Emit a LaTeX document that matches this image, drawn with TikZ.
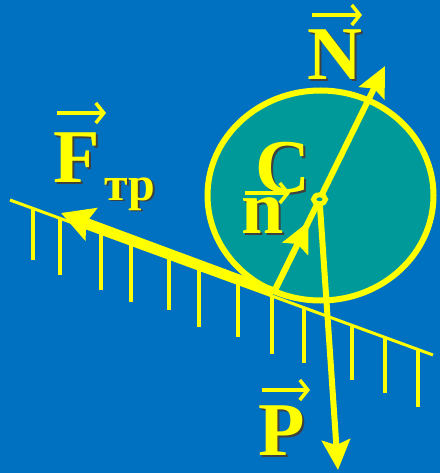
\documentclass[tikz,border=0pt]{standalone}
\usepackage{fontspec}
\setmainfont{Liberation Serif}
\usepackage{tikz}
\usetikzlibrary{arrows.meta, calc}
\definecolor{Sky}{HTML}{0070C0}
\definecolor{Disk}{HTML}{009999}
\definecolor{Gold}{HTML}{FFFF00}
\newcommand{\shtxt}[1]{\rlap{\kern2pt\lower2pt\hbox{\color{black!75}#1}}#1}

\begin{document}
\begin{tikzpicture}[
  x=1pt, y=-1pt,
  font=\bfseries\fontsize{76}{76}\selectfont,
  lbl/.style={text=Gold, inner sep=0pt, anchor=base},
  force/.style={draw=Gold, line width=6pt, -{Stealth[length=30pt, width=28pt, inset=5pt]}},
  push/.style={force, line width=9pt, -{Stealth[length=32pt, width=34pt, inset=5pt]}},
  hatch/.style={draw=Gold, line width=4pt},
  vecbar/.style={draw=Gold, line width=3.5pt, -{Straight Barb[length=8pt, width=20pt]}}
]
\useasboundingbox (0,0) rectangle (440,473);
\fill[Sky] (0,0) rectangle (440,473);

\coordinate (K) at (274,292);
\coordinate (Ntip) at (385,66);
\coordinate (C) at ($(K)!0.41!(Ntip)$);
\coordinate (Ptip) at (338,470);
\coordinate (Ftip) at (61,213);
\coordinate (L1) at (10,200);
\coordinate (L2) at (433,355);

% disk
\draw[Gold, line width=6pt, fill=Disk] (320.5,195.5) ellipse [x radius=113, y radius=105];

% incline
\draw[Gold, line width=3pt] (L1) -- (L2);
\foreach \x/\yb in {33/260, 60/275, 101/290, 131/302, 169/310, 199/327, 238/337, 272/354, 304/363, 352/380, 385/393, 418/407}
  \draw[hatch] (\x,{200+0.3664*(\x-10)}) -- (\x,\yb);

% forces
\draw[push] (K) -- (Ftip);
\draw[force] (K) -- (Ntip);
\draw[force] (K) -- ($(K)!0.76!(C)$);
\draw[force] (C) -- (Ptip);
\draw[Gold, line width=5pt, fill=Disk] (C) ellipse [x radius=6, y radius=4.5];

% labels
\node[lbl] (lN) at (335,80) {\shtxt{N}};
\node[lbl, anchor=base west] (lF) at (53,182) {\shtxt{F\kern5pt\lower18pt\hbox{\fontsize{48}{48}\selectfont тр}}};
\node[lbl] (lC) at (283,192) {\shtxt{C}};
\node[lbl] (ln) at (263,233) {\shtxt{n}};
\node[lbl] (lP) at (282,455) {\shtxt{P}};

\draw[vecbar] ($(lN.base)+(-23,-65)$) -- ($(lN.base)+(27,-65)$);
\draw[vecbar] ($(lF.base west)+(4,-69)$) -- ($(lF.base west)+(53,-69)$);
\draw[vecbar] ($(ln.base)+(-18,-40)$) -- ($(ln.base)+(27,-40)$);
\draw[vecbar] ($(lP.base)+(-20,-65)$) -- ($(lP.base)+(28,-65)$);
\end{tikzpicture}
\end{document}
